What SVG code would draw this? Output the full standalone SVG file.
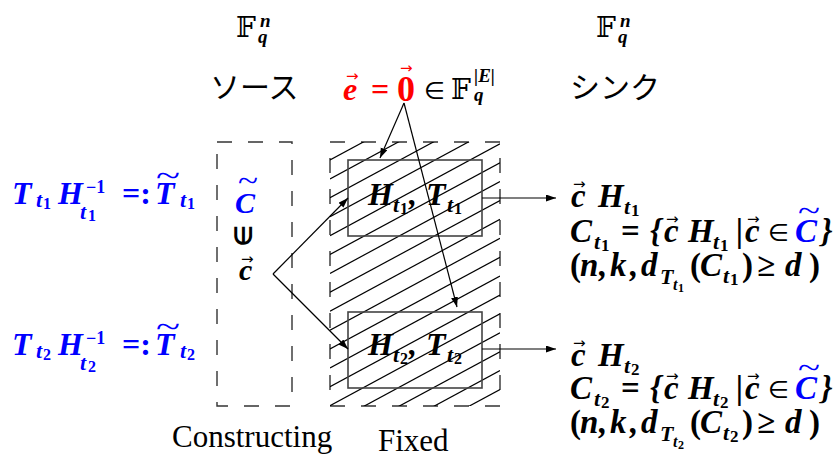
<svg xmlns="http://www.w3.org/2000/svg" width="837" height="458" viewBox="0 0 837 458">
<style>
.m{font-family:"Liberation Serif",serif;font-weight:bold;font-style:italic;}
.u{font-family:"Liberation Serif",serif;font-weight:bold;font-style:normal;}
.rg{font-family:"Liberation Serif",serif;font-weight:normal;font-style:normal;}
.jp{font-family:"Noto Sans CJK JP",sans-serif;font-size:30px;}
.ds{font-family:"DejaVu Serif","DejaVu Sans",serif;font-weight:normal;}
.sy{font-family:"DejaVu Sans",sans-serif;}
.vec{font-family:"DejaVu Sans",sans-serif;font-size:15px;}
.blue{fill:#0000ff;}
.red{fill:#ff0000;}
.dash{fill:none;stroke:#333;stroke-width:1.4;stroke-dasharray:15 16;}
.box{fill:none;stroke:#444;stroke-width:1.6;}
.hatch line{stroke:#000;stroke-width:1.2;}
.conn line{stroke:#000;stroke-width:1.2;marker-end:url(#ah);}
</style>
<defs>
<marker id="ah" markerUnits="userSpaceOnUse" markerWidth="11" markerHeight="8" refX="10" refY="3.5" orient="auto"><path d="M0,0 L10,3.5 L0,7 z" fill="#000"/></marker>
<clipPath id="hclip"><rect x="330" y="142" width="170" height="264"/></clipPath>
</defs>

<!-- top field labels -->
<g id="field-source">
<text class="ds" font-size="28" x="236" y="37">𝔽</text>
<text class="m" font-size="19" x="260" y="27">n</text>
<text class="m" font-size="19" x="258" y="43">q</text>
</g>
<g id="field-sink">
<text class="ds" font-size="28" x="596" y="37">𝔽</text>
<text class="m" font-size="19" x="620" y="27">n</text>
<text class="m" font-size="19" x="618" y="43">q</text>
</g>
<g id="title-source"><text class="jp" x="210" y="98">ソース</text></g>
<g id="title-sink"><text class="jp" x="570" y="98">シンク</text></g>

<g id="error-vector">
<text class="vec red" x="346" y="81">→</text>
<text class="m red" font-size="32" x="343" y="100">e</text>
<text class="u red" font-size="32" x="371" y="100">=</text>
<text class="vec red" x="400" y="73">→</text>
<text class="u red" font-size="36" x="397" y="101">0</text>
<text class="sy" font-size="24" x="424" y="99">∈</text>
<text class="ds" font-size="28" x="451" y="99">𝔽</text>
<text class="m" font-size="19" x="474" y="82">|E|</text>
<text class="m" font-size="19" x="474" y="101">q</text>
</g>

<!-- left labels -->
<g id="label-t1" class="blue">
<text class="m" font-size="32" x="12" y="204">T</text>
<text class="m" font-size="22" x="36" y="207">t</text>
<text class="u" font-size="16" x="43" y="209">1</text>
<text class="m" font-size="32" x="58" y="204">H</text>
<text class="u" font-size="18" x="86" y="193">−1</text>
<text class="m" font-size="22" x="80" y="219">t</text>
<text class="u" font-size="16" x="88" y="221">1</text>
<text class="u" font-size="32" x="122" y="204">=:</text>
<text class="m" font-size="32" x="155" y="204">T</text>
<text class="rg" font-size="30" x="156" y="186" textLength="24" lengthAdjust="spacingAndGlyphs">~</text>
<text class="m" font-size="22" x="180" y="207">t</text>
<text class="u" font-size="16" x="187" y="209">1</text>
</g>
<g id="label-t2" class="blue">
<text class="m" font-size="32" x="12" y="355">T</text>
<text class="m" font-size="22" x="36" y="358">t</text>
<text class="u" font-size="16" x="43" y="360">2</text>
<text class="m" font-size="32" x="58" y="355">H</text>
<text class="u" font-size="18" x="86" y="344">−1</text>
<text class="m" font-size="22" x="80" y="370">t</text>
<text class="u" font-size="16" x="88" y="372">2</text>
<text class="u" font-size="32" x="122" y="355">=:</text>
<text class="m" font-size="32" x="155" y="355">T</text>
<text class="rg" font-size="30" x="156" y="337" textLength="24" lengthAdjust="spacingAndGlyphs">~</text>
<text class="m" font-size="22" x="180" y="358">t</text>
<text class="u" font-size="16" x="187" y="360">2</text>
</g>

<!-- constructing box -->
<g id="constructing">
<rect class="dash" x="217" y="142" width="75" height="264"/>
<text class="rg blue" font-size="30" x="238" y="191" textLength="20" lengthAdjust="spacingAndGlyphs">~</text>
<text class="m blue" font-size="30" x="235" y="213">C</text>
<text class="sy" font-weight="bold" font-size="24" transform="translate(252,236) rotate(-90)" text-anchor="middle">∈</text>
<text class="vec" x="241" y="264">→</text>
<text class="m" font-size="30" x="239" y="280">c</text>
<text class="rg" font-size="31" x="172" y="447">Constructing</text>
</g>

<!-- fixed box -->
<g id="fixed">
<rect class="dash" x="330" y="142" width="170" height="264"/>
<g class="hatch" clip-path="url(#hclip)">
<line x1="330" y1="160" x2="500" y2="68.2"/>
<line x1="330" y1="178.9" x2="500" y2="87.1"/>
<line x1="330" y1="197.8" x2="500" y2="106"/>
<line x1="330" y1="216.7" x2="500" y2="124.9"/>
<line x1="330" y1="235.6" x2="500" y2="143.8"/>
<line x1="330" y1="254.5" x2="500" y2="162.7"/>
<line x1="330" y1="273.4" x2="500" y2="181.6"/>
<line x1="330" y1="292.3" x2="500" y2="200.5"/>
<line x1="330" y1="311.2" x2="500" y2="219.4"/>
<line x1="330" y1="330.1" x2="500" y2="238.3"/>
<line x1="330" y1="349" x2="500" y2="257.2"/>
<line x1="330" y1="367.9" x2="500" y2="276.1"/>
<line x1="330" y1="386.8" x2="500" y2="295"/>
<line x1="330" y1="405.7" x2="500" y2="313.9"/>
<line x1="330" y1="424.6" x2="500" y2="332.8"/>
<line x1="330" y1="443.5" x2="500" y2="351.7"/>
<line x1="330" y1="462.4" x2="500" y2="370.6"/>
<line x1="330" y1="481.3" x2="500" y2="389.5"/>
</g>
<text class="rg" font-size="31" x="378" y="451">Fixed</text>
</g>

<g id="node-t1">
<rect class="box" x="348" y="160" width="134" height="76"/>
<text class="m" font-size="32" x="368" y="205">H</text>
<text class="m" font-size="22" x="393" y="212">t</text>
<text class="u" font-size="16" x="400" y="214">1</text>
<text class="m" font-size="32" x="409" y="205">,</text>
<text class="m" font-size="32" x="426" y="205">T</text>
<text class="m" font-size="22" x="447" y="212">t</text>
<text class="u" font-size="16" x="454" y="214">1</text>
</g>
<g id="node-t2">
<rect class="box" x="348" y="312" width="134" height="76"/>
<text class="m" font-size="32" x="368" y="355">H</text>
<text class="m" font-size="22" x="393" y="362">t</text>
<text class="u" font-size="16" x="400" y="364">2</text>
<text class="m" font-size="32" x="409" y="355">,</text>
<text class="m" font-size="32" x="426" y="355">T</text>
<text class="m" font-size="22" x="447" y="362">t</text>
<text class="u" font-size="16" x="454" y="364">2</text>
</g>

<!-- right outputs -->
<g id="sink-t1">
<text class="vec" x="573" y="189">→</text>
<text class="m" font-size="33" x="571" y="207">c</text>
<text class="m" font-size="33" x="598" y="207">H</text>
<text class="m" font-size="22" x="624" y="214">t</text>
<text class="u" font-size="17" x="631" y="216">1</text>

<text class="m" font-size="33" x="570" y="242">C</text>
<text class="m" font-size="22" x="594" y="249">t</text>
<text class="u" font-size="17" x="601" y="251">1</text>
<text class="u" font-size="33" x="621" y="242">=</text>
<text class="m" font-size="33" x="650" y="242">{</text>
<text class="vec" x="666" y="224">→</text>
<text class="m" font-size="33" x="664" y="242">c</text>
<text class="m" font-size="33" x="688" y="242">H</text>
<text class="m" font-size="22" x="713" y="249">t</text>
<text class="u" font-size="17" x="720" y="251">1</text>
<text class="m" font-size="33" x="736" y="242">|</text>
<text class="vec" x="747" y="224">→</text>
<text class="m" font-size="33" x="745" y="242">c</text>
<text class="sy" font-size="24" x="768" y="241">∈</text>
<text class="rg blue" font-size="30" x="798" y="221" textLength="22" lengthAdjust="spacingAndGlyphs">~</text>
<text class="m blue" font-size="33" x="795" y="242">C</text>
<text class="m" font-size="33" x="821" y="242">}</text>

<text class="u" font-size="33" x="570" y="276">(</text>
<text class="m" font-size="33" x="580" y="276">n</text>
<text class="m" font-size="33" x="599" y="276">,</text>
<text class="m" font-size="33" x="610" y="276">k</text>
<text class="m" font-size="33" x="630" y="276">,</text>
<text class="m" font-size="33" x="641" y="276">d</text>
<text class="m" font-size="22" x="660" y="284">T</text>
<text class="m" font-size="16" x="673" y="290">t</text>
<text class="u" font-size="12" x="678" y="292">1</text>
<text class="u" font-size="33" x="690" y="276">(</text>
<text class="m" font-size="33" x="700" y="276">C</text>
<text class="m" font-size="22" x="723" y="283">t</text>
<text class="u" font-size="17" x="730" y="285">1</text>
<text class="u" font-size="33" x="742" y="276">)</text>
<text class="u" font-size="33" x="757" y="276">≥</text>
<text class="m" font-size="33" x="785" y="276">d</text>
<text class="u" font-size="33" x="809" y="276">)</text>
</g>

<g id="sink-t2">
<text class="vec" x="573" y="348">→</text>
<text class="m" font-size="33" x="571" y="366">c</text>
<text class="m" font-size="33" x="598" y="366">H</text>
<text class="m" font-size="22" x="624" y="373">t</text>
<text class="u" font-size="17" x="631" y="375">2</text>

<text class="m" font-size="33" x="570" y="399">C</text>
<text class="m" font-size="22" x="594" y="406">t</text>
<text class="u" font-size="17" x="601" y="408">2</text>
<text class="u" font-size="33" x="621" y="399">=</text>
<text class="m" font-size="33" x="650" y="399">{</text>
<text class="vec" x="666" y="381">→</text>
<text class="m" font-size="33" x="664" y="399">c</text>
<text class="m" font-size="33" x="688" y="399">H</text>
<text class="m" font-size="22" x="713" y="406">t</text>
<text class="u" font-size="17" x="720" y="408">2</text>
<text class="m" font-size="33" x="736" y="399">|</text>
<text class="vec" x="747" y="381">→</text>
<text class="m" font-size="33" x="745" y="399">c</text>
<text class="sy" font-size="24" x="768" y="398">∈</text>
<text class="rg blue" font-size="30" x="798" y="378" textLength="22" lengthAdjust="spacingAndGlyphs">~</text>
<text class="m blue" font-size="33" x="795" y="399">C</text>
<text class="m" font-size="33" x="821" y="399">}</text>

<text class="u" font-size="33" x="570" y="433">(</text>
<text class="m" font-size="33" x="580" y="433">n</text>
<text class="m" font-size="33" x="599" y="433">,</text>
<text class="m" font-size="33" x="610" y="433">k</text>
<text class="m" font-size="33" x="630" y="433">,</text>
<text class="m" font-size="33" x="641" y="433">d</text>
<text class="m" font-size="22" x="660" y="441">T</text>
<text class="m" font-size="16" x="673" y="447">t</text>
<text class="u" font-size="12" x="678" y="449">2</text>
<text class="u" font-size="33" x="690" y="433">(</text>
<text class="m" font-size="33" x="700" y="433">C</text>
<text class="m" font-size="22" x="723" y="440">t</text>
<text class="u" font-size="17" x="730" y="442">2</text>
<text class="u" font-size="33" x="742" y="433">)</text>
<text class="u" font-size="33" x="757" y="433">≥</text>
<text class="m" font-size="33" x="785" y="433">d</text>
<text class="u" font-size="33" x="809" y="433">)</text>
</g>

<g id="connectors" class="conn">
<line x1="404" y1="103" x2="380" y2="158"/>
<line x1="404" y1="103" x2="457" y2="307"/>
<line x1="273" y1="274" x2="348" y2="198"/>
<line x1="273" y1="274" x2="348" y2="349"/>
<line x1="482" y1="198" x2="556" y2="198"/>
<line x1="482" y1="349" x2="556" y2="349"/>
</g>
</svg>
